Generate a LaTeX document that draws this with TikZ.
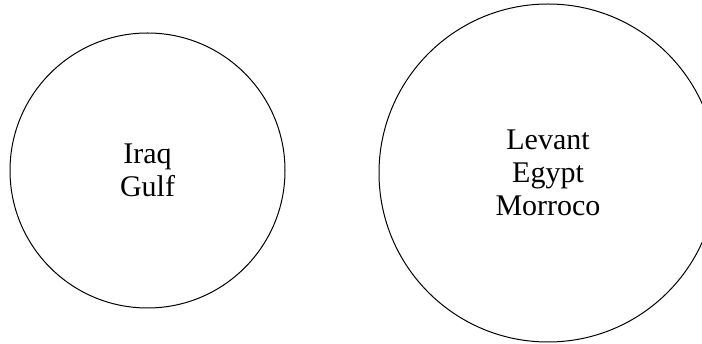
\documentclass[tikz,border=0pt]{standalone}
\usepackage{fontspec}
\setmainfont{Liberation Serif}
\usetikzlibrary{positioning}

\begin{document}
\begin{tikzpicture}[
  x=1pt, y=-1pt,
  every node/.style={font=\fontsize{30}{33}\selectfont},
  zone/.style={draw=black, circle, line width=1pt, inner sep=0pt,
               align=center, text=black}
]
  \useasboundingbox (0,0) rectangle (702,344);

  %% Nodes
  \node[zone, minimum size=275pt] (east) at (147.5,170.5) {Iraq\\Gulf};
  \node[zone, minimum size=338pt] (west) at (548,173)     {Levant\\Egypt\\Morroco};
\end{tikzpicture}
\end{document}
